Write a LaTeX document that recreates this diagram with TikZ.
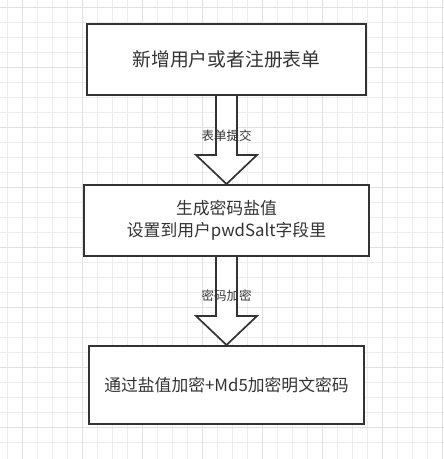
\documentclass[tikz,border=0pt]{standalone}
\usepackage{fontspec}
\usepackage{tikz}
\usepackage{xcolor}
\usetikzlibrary{calc}
\newfontfamily\cjk{Noto Sans CJK SC}
\definecolor{Grid_Minor}{HTML}{EDEDED}
\definecolor{Grid_Major}{HTML}{E0E0E0}
\definecolor{Ink_Dark}{HTML}{333333}

\begin{document}
\begin{tikzpicture}[x=1pt, y=-1pt,
    stepbox/.style={draw=Ink_Dark, line width=2pt, fill=white, text=Ink_Dark,
        font=\cjk\fontsize{16.8}{21.5}\selectfont, align=center, inner sep=0pt},
    flowlabel/.style={text=Ink_Dark, font=\cjk\fontsize{12.5}{14}\selectfont, inner sep=0pt}]

    % all measures in px of the 444 x 459 canvas, y grows downwards
    \useasboundingbox (0,0) rectangle (444,459);
    \fill[white] (0,0) rectangle (444,459);

    % === background grid: 15px cells, a darker line every 4 cells ===
    \foreach \k in {0,...,29} {
        \draw[Grid_Minor, line width=1pt] ({7.3+15*\k},0) -- ({7.3+15*\k},459);
        \draw[Grid_Minor, line width=1pt] (0,{7.3+15*\k}) -- (444,{7.3+15*\k});
    }
    \foreach \k in {0,...,7} {
        \draw[Grid_Major, line width=1pt] ({22.3+60*\k},0) -- ({22.3+60*\k},459);
        \draw[Grid_Major, line width=1pt] (0,{7.3+60*\k}) -- (444,{7.3+60*\k});
    }

    % === the three steps ===
    \node[stepbox, minimum width=279, minimum height=71, font=\cjk\fontsize{18.8}{22}\selectfont] (newuser) at (226.5,59.5) {新增用户或者注册表单};
    \node[stepbox, minimum width=285, minimum height=71] (makesalt) at (226.5,220.5) {生成密码盐值\\设置到用户pwdSalt字段里};
    \node[stepbox, minimum width=275, minimum height=78] (encrypt) at (226.5,385) {通过盐值加密+Md5加密明文密码};

    % === block arrow: newuser -> makesalt ===
    \fill[white] ($(newuser.south)+(-10.5,0)$) -- ($(makesalt.north)+(-10.5,-29)$) -- ($(makesalt.north)+(-30.5,-29)$) -- (makesalt.north) -- ($(makesalt.north)+(30.5,-29)$) -- ($(makesalt.north)+(10.5,-29)$) -- ($(newuser.south)+(10.5,0)$) -- cycle;
    \draw[Ink_Dark, line width=1.7pt] ($(newuser.south)+(-10.5,0)$) -- ($(makesalt.north)+(-10.5,-29)$) -- ($(makesalt.north)+(-30.5,-29)$) -- (makesalt.north) -- ($(makesalt.north)+(30.5,-29)$) -- ($(makesalt.north)+(10.5,-29)$) -- ($(newuser.south)+(10.5,0)$);
    \node[flowlabel] (submit) at ($(newuser.south)!0.455!(makesalt.north)$) {表单提交};

    % === block arrow: makesalt -> encrypt ===
    \fill[white] ($(makesalt.south)+(-10.5,0)$) -- ($(encrypt.north)+(-10.5,-29)$) -- ($(encrypt.north)+(-30.5,-29)$) -- (encrypt.north) -- ($(encrypt.north)+(30.5,-29)$) -- ($(encrypt.north)+(10.5,-29)$) -- ($(makesalt.south)+(10.5,0)$) -- cycle;
    \draw[Ink_Dark, line width=1.7pt] ($(makesalt.south)+(-10.5,0)$) -- ($(encrypt.north)+(-10.5,-29)$) -- ($(encrypt.north)+(-30.5,-29)$) -- (encrypt.north) -- ($(encrypt.north)+(30.5,-29)$) -- ($(encrypt.north)+(10.5,-29)$) -- ($(makesalt.south)+(10.5,0)$);
    \node[flowlabel] (hashpwd) at ($(makesalt.south)!0.445!(encrypt.north)$) {密码加密};

\end{tikzpicture}
\end{document}
